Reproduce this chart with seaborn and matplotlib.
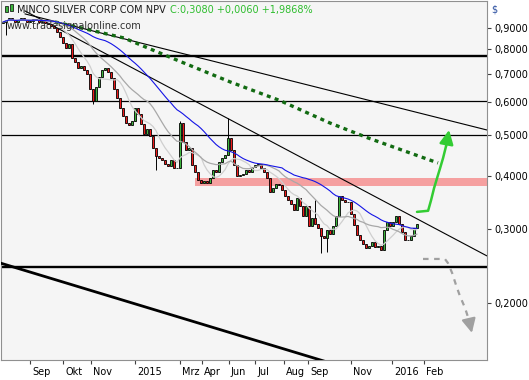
import numpy as np
import pandas as pd
import seaborn as sns
import matplotlib.pyplot as plt
from matplotlib.patches import Rectangle
from matplotlib.ticker import FixedLocator, FuncFormatter, NullLocator
from matplotlib.transforms import ScaledTranslation

W, H = 529, 380

title = 'MINCO SILVER CORP COM NPV'
quote = 'C:0,3080 +0,0060 +1,9868%'
watermark = 'www.tradesignalonline.com'

# closing prices, one per candle
closes = [
    0.930, 0.940, 0.950, 0.940, 0.930, 0.940, 0.950, 0.940, 0.930, 0.935,
    0.945, 0.940, 0.930, 0.935, 0.925, 0.920, 0.910, 0.900, 0.881, 0.857,
    0.830, 0.808, 0.825, 0.764, 0.746, 0.721, 0.729, 0.714, 0.698, 0.646,
    0.605, 0.653, 0.690, 0.714, 0.721, 0.706, 0.683, 0.646, 0.613, 0.580,
    0.555, 0.536, 0.528, 0.542, 0.580, 0.561, 0.531, 0.503, 0.519, 0.497,
    0.467, 0.446, 0.442, 0.437, 0.428, 0.423, 0.437, 0.418, 0.418, 0.535,
    0.481, 0.461, 0.467, 0.425, 0.409, 0.391, 0.385, 0.389, 0.385, 0.396,
    0.413, 0.409, 0.432, 0.442, 0.449, 0.494, 0.461, 0.425, 0.400, 0.402,
    0.405, 0.413, 0.409, 0.420, 0.425, 0.428, 0.418, 0.409, 0.396, 0.366,
    0.375, 0.383, 0.381, 0.370, 0.358, 0.351, 0.343, 0.332, 0.355, 0.340,
    0.321, 0.340, 0.304, 0.318, 0.308, 0.301, 0.288, 0.285, 0.298, 0.291,
    0.304, 0.321, 0.358, 0.351, 0.347, 0.347, 0.325, 0.306, 0.290, 0.282,
    0.276, 0.270, 0.273, 0.279, 0.272, 0.273, 0.267, 0.298, 0.311, 0.304,
    0.311, 0.321, 0.308, 0.295, 0.282, 0.282, 0.288, 0.302, 0.308,
]
first_open = 0.925

# the long wicks (candle index -> price)
wick_high = {59: 0.540, 75: 0.550, 104: 0.351}
wick_low = {1: 0.866, 30: 0.593, 51: 0.413, 106: 0.263, 108: 0.264}

month_bars = [9, 20, 29.3, 44, 59, 66.3, 75.3, 84, 93.7, 101.7, 116, 129.7, 140.3]
month_labels = ['Sep', 'Okt', 'Nov', '2015', 'Mrz', 'Apr', 'Jun', 'Jul', 'Aug',
                'Sep', 'Nov', '2016', 'Feb']
price_ticks = [0.2, 0.3, 0.4, 0.5, 0.6, 0.7, 0.8, 0.9]

# drawings on the chart
levels_thick = [0.772, 0.2435]
levels_thin = [0.604, 0.500]
zone_low, zone_high, zone_start = 0.380, 0.396, 64
trend_a = ([7.3, 161.3], [0.972, 0.515])
trend_b = ([7.3, 161.3], [0.988, 0.2586])
trend_c = ([-1, 109], [0.2488, 0.144])
proj_bars = [17.3, 29, 40.3, 59.7, 75.7, 92.3, 109, 121.7, 145]
proj_vals = [0.930, 0.890, 0.852, 0.746, 0.670, 0.605, 0.535, 0.493, 0.430]
up_bars = [138, 141.7, 142.7, 143.7, 144.7, 145.7, 146.7, 147.7, 148.7]
up_vals = [0.329, 0.331, 0.351, 0.375, 0.396, 0.418, 0.442, 0.472, 0.515]
down_bars = [140, 147.3, 148.3, 149.7, 151, 152.3, 154, 155.3, 156.3]
down_vals = [0.2543, 0.2543, 0.2488, 0.2356, 0.2206, 0.2077, 0.1946, 0.1822, 0.1697]

sns.set_theme(style='white')
plt.rcParams['font.family'] = ['DejaVu Sans']

df = pd.DataFrame({'bar': np.arange(len(closes)), 'close': closes})
df['open'] = df['close'].shift(1).fillna(first_open)
df['high'] = df[['open', 'close']].max(axis=1)
df['low'] = df[['open', 'close']].min(axis=1)
for k, v in wick_high.items():
    df.loc[k, 'high'] = v
for k, v in wick_low.items():
    df.loc[k, 'low'] = v
df['ma_fast'] = df['close'].rolling(8, min_periods=1).mean()
df['ma_mid'] = df['close'].rolling(18, min_periods=1).mean()
df['ma_slow'] = df['close'].rolling(35, min_periods=1).mean()

fig = plt.figure(figsize=(W / 100, H / 100), dpi=100)
fig.patch.set_facecolor('white')
ax = fig.add_axes([1 / W, 1 - 360 / H, 486 / W, 359 / H])
ax.set_facecolor('#f5f5f5')
ax.set_yscale('log')
xmax = (487 - 3) / 3
ax.set_xlim(-0.67, xmax)
ax.set_ylim(0.1463, 1.043)

# support zone
ax.fill_between([zone_start, xmax], zone_low, zone_high, color='#f5a0a0', lw=0, zorder=1)

for lv in levels_thick:
    ax.axhline(lv, color='black', lw=1.7, zorder=2)
for lv in levels_thin:
    ax.axhline(lv, color='black', lw=0.9, zorder=2)

ax.plot(*trend_a, color='black', lw=0.8, zorder=3)
ax.plot(*trend_b, color='black', lw=0.8, zorder=3)
ax.plot(*trend_c, color='black', lw=2.0, zorder=3)

ax.plot(proj_bars, proj_vals, color='#126b12', lw=2.4, ls=(0, (1.2, 1.3)), zorder=3)

# candles
up = df['close'] >= df['open']
ax.vlines(df['bar'], df['low'], df['high'], color='black', lw=0.7, zorder=4)
ax.bar(df['bar'], (df['close'] - df['open']).abs(), bottom=df[['open', 'close']].min(axis=1),
       width=0.95, color=np.where(up, '#3cb43c', '#ee1a1a'), edgecolor='black',
       linewidth=0.6, zorder=5)

sns.lineplot(data=df, x='bar', y='ma_fast', ax=ax, color='#cfcfcf', lw=0.9, zorder=6)
sns.lineplot(data=df, x='bar', y='ma_mid', ax=ax, color='#a8a8a8', lw=0.9, zorder=6)
sns.lineplot(data=df, x='bar', y='ma_slow', ax=ax, color='#1414e6', lw=0.8, zorder=6)

# scenario arrows
ax.plot(up_bars[:-1], up_vals[:-1], color='#33cc33', lw=1.8, zorder=7)
ax.annotate('', xy=(up_bars[-1], up_vals[-1]), xytext=(up_bars[-2], up_vals[-2]),
            arrowprops=dict(arrowstyle='-|>,head_length=0.7,head_width=0.35',
                            color='#33cc33', lw=1.8, shrinkA=0, shrinkB=0), zorder=7)
ax.plot(down_bars[:-1], down_vals[:-1], color='#a0a0a0', lw=1.6, ls=(0, (2.5, 2.5)), zorder=7)
ax.annotate('', xy=(down_bars[-1], down_vals[-1]), xytext=(down_bars[-2], down_vals[-2]),
            arrowprops=dict(arrowstyle='-|>,head_length=0.7,head_width=0.35',
                            color='#a0a0a0', lw=1.6, shrinkA=0, shrinkB=0), zorder=7)

ax.set_xlabel('')
ax.set_ylabel('')
ax.yaxis.tick_right()
ax.yaxis.set_major_locator(FixedLocator(price_ticks))
ax.yaxis.set_minor_locator(NullLocator())
ax.yaxis.set_major_formatter(FuncFormatter(lambda v, _: f'{v:.4f}'.replace('.', ',')))
ax.set_xticks(month_bars)
ax.set_xticklabels(month_labels)
ax.tick_params(axis='y', which='major', direction='out', length=3, width=0.8,
               pad=2.5, labelsize=7, color='#404040', labelcolor='black')
ax.tick_params(axis='x', direction='out', length=3, width=0.8, pad=2,
               labelsize=7, color='#404040', labelcolor='black', bottom=True)
shift = ScaledTranslation(2 / 100, 0, fig.dpi_scale_trans)
for lbl in ax.get_xticklabels():
    lbl.set_ha('left')
    lbl.set_transform(lbl.get_transform() + shift)
for s in ax.spines.values():
    s.set_color('#909090')
    s.set_linewidth(0.8)

# little candle icon in front of the title
for x0, y0, h in [(5, 6, 6), (10, 4, 7)]:
    fig.add_artist(Rectangle((x0 / W, 1 - (y0 + h) / H), 3 / W, h / H,
                             facecolor='#3cb43c', edgecolor='black', lw=0.5))

fig.text(17 / W, 1 - 10 / H, title, fontsize=7, va='center', color='#1a1a1a')
fig.text(170 / W, 1 - 10 / H, quote, fontsize=7, va='center', color='#2ebd2e')
fig.text(7 / W, 1 - 26 / H, watermark, fontsize=7, va='center', color='#303030')
fig.text(491 / W, 1 - 9 / H, '$', fontsize=7, va='center', color='#2b4fa0')

fig.savefig('out.png', dpi=100)
